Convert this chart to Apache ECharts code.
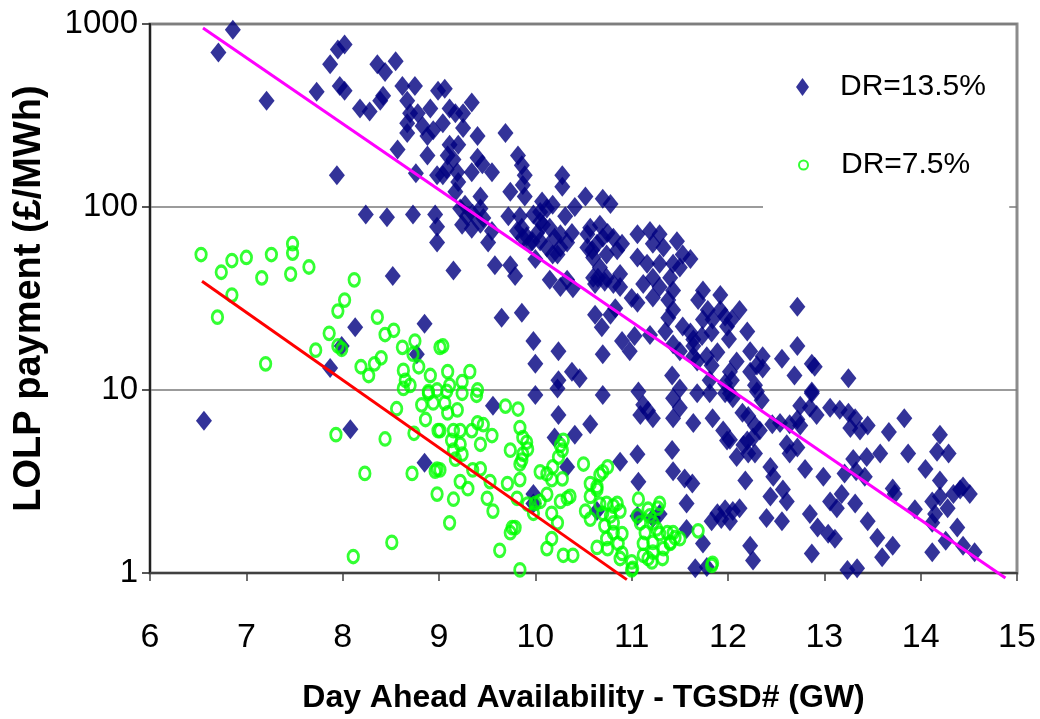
<!DOCTYPE html>
<html>
<head>
<meta charset="utf-8">
<script src="https://cdn.jsdelivr.net/npm/echarts@6/dist/echarts.min.js"></script>
<style>
html, body { margin: 0; padding: 0; background: #ffffff; }
#chart { width: 1040px; height: 719px; }
</style>
</head>
<body>
<div id="chart"></div>
<script>
// LOLP payment vs day-ahead availability, two de-rating cases

const seriesNames = ['DR=13.5%', 'DR=7.5%'];
const xTicks = [6, 7, 8, 9, 10, 11, 12, 13, 14, 15];
const yTicks = [1, 10, 100, 1000];

// [availability GW, payment £/MWh]
const dr135 = [
  [6.86,929],[6.71,699],[7.21,381],[7.94,149],[8.02,772],[7.95,726],[7.87,603],[7.73,426],[7.97,459],[8.02,432],
  [8.36,603],[8.44,546],[8.55,625],[8.18,345],[8.28,333],[8.39,381],[8.42,406],[8.62,459],[8.75,459],[8.67,381],
  [8.70,325],[8.78,325],[8.91,345],[8.67,287],[8.83,277],[8.94,263],[8.67,254],[8.88,244],[8.57,206],[8.88,191],
  [8.76,153],[8.99,432],[8.98,149],
  [9.06,443],[9.34,372],[9.11,345],[9.17,325],[9.25,325],[9.04,287],[9.25,270],[9.40,244],[9.69,254],[9.11,219],
  [9.20,219],[9.09,191],[9.15,182],[9.08,161],[9.19,155],[9.40,186],[9.45,171],[9.34,155],[9.55,155],[9.82,191],
  [9.86,169],[9.89,149],[9.04,149],[9.20,137],[9.17,121],[9.74,121],[9.87,132],[9.89,114],[10.28,149],[10.28,129],
  [10.52,114],[9.43,114],[10.70,111],[10.78,104],[10.07,107],[10.18,103],[9.27,103],
  [8.24,91],[8.46,88],[8.73,91],[8.96,91],[8.98,78],[8.98,64],[8.52,42],[8.13,22],[8.85,23],[7.99,17.4],
  [8.77,15.7],[7.87,13.2],[6.56,6.8],[8.08,6.1],[8.85,4.0],
  [9.22,98],[9.29,89],[9.35,92],[9.43,98],[9.24,80],[9.34,76],[9.43,81],[9.46,87],[9.55,74],[9.51,64],
  [9.15,45],[9.58,48],[9.74,48],[9.79,42],[9.65,24.8],[9.86,26.4],[9.98,18.5],[10.00,13.9],[10.24,16.3],[10.38,12.6],
  [10.46,11.6],[10.24,11.3],[9.72,89],[9.84,89],[9.86,77],[9.81,74],[9.91,69],[9.97,65],[10.02,72],[10.05,83],
  [10.05,94],[10.12,98],[10.15,77],[10.20,68],[10.26,60],[10.23,55],[10.31,89],[10.38,72],[10.33,64],[10.00,52],
  [10.15,40],[10.26,36.5],[10.39,36],[10.33,40],[10.41,100],
  [10.54,71],[10.57,77],[10.64,63],[10.59,58],[10.70,68],[10.75,72],[10.81,68],[10.67,80],[10.74,55],[10.85,58],
  [10.90,63],[10.62,38],[10.72,39],[10.65,41],[10.88,36.5],[11.00,31.8],[10.62,25.8],[10.69,22],[10.78,25.8],[10.83,28],
  [10.70,15.7],[10.90,18.5],[10.98,16.3],[11.03,19.7],[11.19,20],[11.35,20.9],[11.43,17.8],[11.50,16.3],[11.42,12],[11.61,20.6],
  [11.64,17.4],[11.73,19.7],[11.83,20.6],[11.74,35],[11.79,27.4],[11.69,31],[11.84,24.3],[11.74,24.3],[11.61,52],[11.64,15.3],
  [11.78,15.3],[11.89,16.1],[11.83,13.6],[11.68,14.3],[11.81,11.3],[11.97,10.9],
  [11.06,71],[11.19,74],[11.29,71],[11.22,63],[11.33,60],[11.47,65],[11.53,55],[11.06,53],[11.16,49],[11.29,49],
  [11.43,49],[11.50,46.7],[11.22,41],[11.40,41],[11.12,38],[11.29,36.5],[11.43,35],[11.22,32],[11.38,31],[11.06,30],
  [11.38,24.8],[11.43,27.4],[11.53,22.2],[11.64,18.9],[11.92,27.4],[11.97,25.2],[11.99,22.2],
  [9.87,68],[9.94,63],[10.05,65],[10.12,60],[10.18,55],[10.26,71],[10.08,80],[9.98,91],[10.54,60],[10.60,53],
  [10.67,46.7],[10.74,41],[10.81,38],[10.88,43],[10.60,41],[11.92,33],[12.01,19.0],
  [12.12,27.4],[12.04,24.3],[12.20,20.9],[12.72,28.5],[12.72,17.4],[12.23,16.3],[12.36,15.3],[12.30,13.6],[12.36,13.1],[12.23,12.6],
  [12.09,14.3],[12.56,14.8],[12.87,13.9],[12.90,13.4],[12.69,12.0],[13.25,11.6],[12.28,10.6],[12.87,9.8],[12.02,12.6],[12.04,11.3],
  [12.02,9.6],[12.05,9.0],[12.30,9.8],[12.35,8.8],[12.87,9.6],[12.75,8.2],[12.85,8.0],[12.92,7.3],[12.15,7.5],[12.21,7.2],
  [12.46,6.5],[12.54,6.6],[12.64,6.5],[12.72,6.9],[12.75,6.4],[13.06,8.0],[13.16,7.8],[13.25,7.5],[13.32,7.0],[13.27,6.2],
  [13.37,6.0],[13.45,6.4],[13.83,7.0],[13.67,5.9],[14.20,5.7],[14.17,4.6],[14.29,4.5],[13.87,4.5],[13.58,4.5],[13.44,4.3],
  [13.30,4.2],[13.21,3.5],[13.33,3.6],[13.42,3.36],[14.05,3.7],[14.20,3.2],[13.71,2.9],[13.73,2.7],[13.18,2.7],[12.99,3.36],
  [12.80,3.7],[13.32,2.4],[13.06,2.46],[13.13,2.26],[12.85,2.1],[13.45,1.92],[13.55,1.56],[13.71,1.41],[13.60,1.22],[13.94,2.23],
  [14.12,2.46],[14.15,2.1],[14.12,1.88],[14.20,2.62],[14.28,2.26],[14.34,2.7],[14.41,2.86],[14.51,2.7],[14.44,2.97],[14.38,1.77],
  [14.26,1.50],[14.44,1.41],[14.56,1.30],[14.12,1.30],[12.12,2.26],[12.05,2.18],[12.02,1.92],[12.40,2.0],[12.56,1.92],[12.44,3.8],
  [12.47,3.36],[12.44,2.62],[12.57,2.86],[12.61,2.46],[12.18,3.2],[12.93,1.77],[13.04,1.64],[13.11,1.54],[12.87,1.28],[12.23,1.41],
  [12.26,1.17],[13.24,1.04],[13.34,1.06],[12.61,5.05],[12.64,4.5],[12.72,4.85],[12.09,4.3],[12.21,4.5],[12.28,4.5],[12.20,5.3],
  [12.26,5.5],[12.33,6.0],[12.28,6.4],[12.02,5.35],[12.16,5.0],
  [10.00,9.4],[10.23,10.2],[9.56,8.2],[10.24,7.3],[10.41,5.7],[10.57,6.5],[10.20,5.5],[10.33,3.8],[9.98,2.7],[10.64,2.18],
  [10.70,9.4],[11.07,9.8],[11.12,8.3],[11.17,7.7],[11.22,7.0],[11.09,7.3],[11.43,9.0],[11.50,8.0],[11.43,7.0],[11.64,6.6],
  [11.50,10.2],[11.68,9.6],[11.81,9.6],[11.97,9.6],[11.84,7.0],[11.95,6.0],[11.99,5.3],[11.06,4.45],[10.88,4.05],[11.42,4.7],
  [11.43,3.6],[11.55,3.28],[11.63,3.08],[11.07,3.15],[11.57,2.4],[11.89,2.12],[11.97,2.23],[11.83,1.92],[11.93,1.97],[11.57,1.74],
  [11.74,1.45],[11.66,1.06],[11.78,1.08],[11.22,2.0],[11.29,2.1],[11.06,2.05],[9.98,2.4]
];

const dr75 = [
  [6.53,55],[6.74,44],[6.85,51],[7.00,53],[6.85,33],[6.70,25],[7.26,55],[7.16,41],[7.48,63],[7.48,56],
  [7.46,43],[7.65,47],[8.12,40],[8.02,31],[7.95,27],[8.36,25],[7.86,20.4],[7.72,16.5],[7.95,17.4],[7.99,16.7],
  [8.44,20.1],[8.53,21.2],[8.62,17.1],[8.75,18.5],[8.73,15.7],[8.19,13.4],[8.27,12.0],[8.33,13.9],[8.40,15.0],[8.63,12.8],
  [8.65,11.3],[8.63,10.2],[8.70,10.6],[8.79,13.4],[8.91,12.0],[9.01,17.1],[8.89,9.8],[8.98,10.0],[7.20,13.9],
  [7.93,5.7],[8.23,3.5],[8.11,1.23],[8.51,1.47],[8.44,5.4],[8.56,7.9],[8.74,5.8],[8.72,3.5],[8.82,8.3],[8.94,8.5],
  [8.89,9.6],[8.86,6.9],[8.99,6.0],[8.96,3.6],[8.98,3.7],[8.98,2.7],
  [9.04,17.4],[9.09,12.6],[9.32,12.6],[9.24,11.1],[9.11,10.6],[9.40,10.0],
  [9.08,9.84],[9.24,9.6],[9.39,9.36],[9.06,8.48],[9.19,7.78],[9.09,7.5],[9.69,8.17],[9.82,7.87],
  [9.01,6.0],[9.15,6.0],[9.22,6.0],[9.34,6.0],[9.40,6.62],[9.46,6.46],[9.55,5.64],
  [9.13,5.31],[9.22,5.05],[9.43,5.05],[9.15,4.69],[9.17,4.19],[9.24,4.46],
  [9.84,6.23],[9.87,5.5],[9.91,5.18],[9.92,4.75],[9.87,4.46],[9.86,4.14],[9.84,3.94],[9.74,4.69],
  [9.01,3.66],[9.22,3.16],[9.30,2.89],[9.35,3.66],[9.43,3.71],[9.53,3.16],[9.50,2.56],[9.56,2.18],[9.71,3.08],[9.84,3.24],[9.81,2.56],
  [9.15,2.53],[9.11,1.88],[9.74,1.66],[9.76,1.77],[9.79,1.77],[9.63,1.33],[9.84,1.04],
  [9.92,2.38],[10.00,2.40],[10.05,2.46],[9.98,2.12],[10.12,2.69],[10.17,2.12],[10.23,1.88],[10.26,2.46],[10.33,2.56],[10.36,2.62],
  [10.05,3.57],[10.12,3.48],[10.18,3.80],[10.17,3.24],[10.28,3.27],[10.29,5.31],[10.28,4.69],[10.24,4.30],[10.26,4.99],
  [10.17,1.54],[10.12,1.36],[10.29,1.25],[10.39,1.25],[10.50,3.94],
  [10.57,3.08],[10.64,2.97],[10.67,3.44],[10.70,3.57],[10.75,3.80],[10.57,2.62],[10.52,2.18],[10.57,1.97],[10.64,2.86],
  [10.67,2.38],[10.74,2.40],[10.81,2.32],[10.85,2.40],[10.70,2.12],[10.78,2.05],[10.81,1.88],[10.88,2.18],[10.72,1.81],[10.81,1.66],
  [10.90,1.64],[10.74,1.54],[10.86,1.45],[10.64,1.38],[10.75,1.36],[10.90,1.28],[10.88,1.20],[11.00,1.15],[11.01,1.06],
  [11.07,2.53],[11.06,2.05],[11.17,2.23],[11.19,2.05],[11.09,1.88],[11.22,1.88],[11.26,1.74],[11.29,2.40],[11.27,2.26],[11.14,1.66],
  [11.12,1.45],[11.22,1.47],[11.29,1.64],[11.37,1.66],[11.43,1.66],[11.50,1.54],[11.40,1.45],[11.33,1.36],[11.22,1.30],[11.17,1.20],
  [11.12,1.25],[11.21,1.15],[11.32,1.20],[11.40,1.47],[11.45,1.56],[11.69,1.70],[11.84,1.13],[11.83,1.10],[11.00,1.04]
];

// exponential trend lines (straight on the log axis)
const trend135 = [[6.55, 950], [14.88, 0.94]];
const trend75 = [[6.54, 39.3], [10.95, 0.92]];

const sans = "'Liberation Sans', Arial, sans-serif";

const chart = echarts.init(document.getElementById('chart'), null, { renderer: 'canvas' });

chart.setOption({
  animation: false,
  backgroundColor: '#ffffff',
  grid: {
    left: 150, right: 23, top: 24, bottom: 136,
    show: true, borderColor: '#8c8c8c', borderWidth: 3, backgroundColor: 'transparent'
  },
  legend: [
    {
      data: [{ name: seriesNames[0] }],
      left: 763, top: 57,
      padding: [10, 28, 10, 33],
      itemWidth: 13, itemHeight: 18,
      textStyle: { fontFamily: sans, fontSize: 30, color: '#000', lineHeight: 40, padding: [0, 0, 0, 26] }
    },
    {
      data: [{ name: seriesNames[1] }],
      left: 763, top: 135,
      padding: [10, 39, 26, 35],
      itemWidth: 9, itemHeight: 12,
      backgroundColor: '#ffffff',
      textStyle: { fontFamily: sans, fontSize: 30, color: '#000', lineHeight: 40, padding: [0, 0, 0, 28] }
    }
  ],
  xAxis: {
    type: 'value', min: xTicks[0], max: xTicks[xTicks.length - 1], interval: 1,
    name: 'Day Ahead Availability - TGSD# (GW)',
    nameLocation: 'middle', nameGap: 109,
    nameTextStyle: { fontFamily: sans, fontWeight: 'bold', fontSize: 32, color: '#000' },
    axisLine: { show: true, onZero: false, lineStyle: { color: '#404040', width: 2 } },
    axisTick: { show: true, inside: false, length: 8, lineStyle: { color: '#404040', width: 1.5 } },
    axisLabel: { fontFamily: sans, fontSize: 34, color: '#000', margin: 48 },
    splitLine: { show: false }
  },
  yAxis: {
    type: 'log', logBase: 10, min: yTicks[0], max: yTicks[yTicks.length - 1],
    name: 'LOLP payment (£/MWh)',
    nameLocation: 'middle', nameGap: 101, nameRotate: 90,
    nameTextStyle: { fontFamily: sans, fontWeight: 'bold', fontSize: 38, color: '#000' },
    axisLine: { show: true, lineStyle: { color: '#202020', width: 2 } },
    axisTick: { show: true, inside: false, length: 8, lineStyle: { color: '#202020', width: 1.5 } },
    axisLabel: {
      fontFamily: sans, fontSize: 33, color: '#000', margin: 12,
      formatter: v => String(Math.round(v))
    },
    splitLine: { show: true, lineStyle: { color: '#7a7a7a', width: 1.5 } }
  },
  series: [
    {
      name: seriesNames[0], type: 'scatter', data: dr135,
      symbol: 'diamond', symbolSize: [16, 20],
      itemStyle: { color: '#000080' }, z: 2
    },
    {
      name: seriesNames[1], type: 'scatter', data: dr75,
      symbol: 'circle', symbolSize: [10.5, 12.5],
      itemStyle: { color: 'rgba(0,0,0,0)', borderColor: '#00ff00', borderWidth: 3 }, z: 3
    },
    {
      name: 'trend135', type: 'line', data: trend135, showSymbol: false, symbol: 'none',
      lineStyle: { color: '#ff00ff', width: 3 }, clip: false, silent: true, z: 4
    },
    {
      name: 'trend75', type: 'line', data: trend75, showSymbol: false, symbol: 'none',
      lineStyle: { color: '#ff0000', width: 3 }, clip: false, silent: true, z: 4
    }
  ]
});
</script>
</body>
</html>
